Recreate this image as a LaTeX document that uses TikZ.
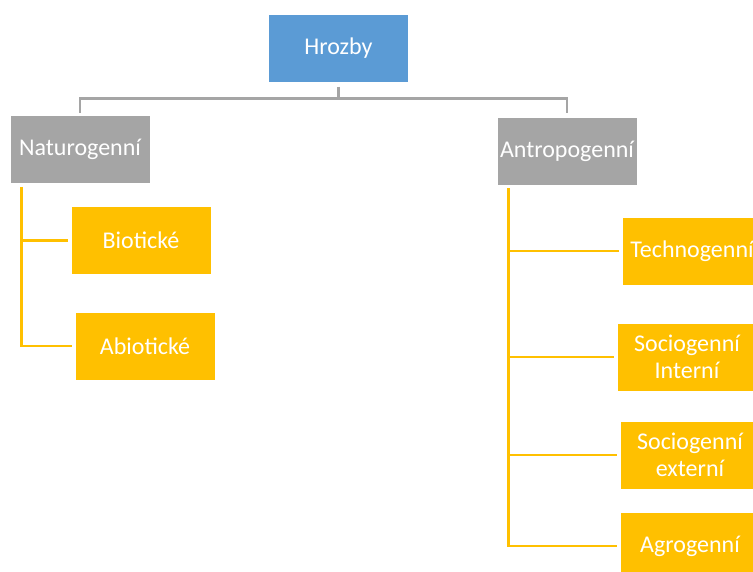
\documentclass[tikz,border=0pt]{standalone}
\usepackage{fontspec}
\setmainfont{Carlito}
\usetikzlibrary{calc}
\definecolor{cblue}{HTML}{5B9BD5}
\definecolor{cgray}{HTML}{A5A5A5}
\definecolor{cgold}{HTML}{FFC000}
\begin{document}
\begin{tikzpicture}[x=0.75pt,y=-0.75pt,
  box/.style={rectangle, draw=white, line width=0.4pt, minimum width=105pt, minimum height=51pt,
    text=white, font=\fontsize{18}{20.5}\selectfont, align=center, inner sep=1pt},
  bluebox/.style={box, fill=cblue},
  graybox/.style={box, fill=cgray},
  goldbox/.style={box, fill=cgold},
  grayline/.style={draw=cgray, line width=2pt},
  goldline/.style={draw=cgold, line width=2.2pt}]
\useasboundingbox (0,0) rectangle (753,571);
\clip (0,0) rectangle (753,571);
\node[bluebox] (hro) at (338.5,48.5) {Hrozby};
\node[graybox] (nat) at (80,149.5) {Naturogenní};
\node[graybox] (ant) at (567,151) {Antropogenní};
\node[goldbox] (bio) at (141,240.5) {Biotické};
\node[goldbox] (abio) at (145,346) {Abiotické};
\node[goldbox] (tech) at (692,251) {Technogenní};
\node[goldbox] (soci) at (687,357) {Sociogenní\\Interní};
\node[goldbox] (soce) at (690,455) {Sociogenní\\externí};
\node[goldbox] (agro) at (690,546) {Agrogenní};
\draw[grayline, shorten <=3pt, shorten >=2pt] (hro.south) -- ++(0,16) -| (nat.north);
\draw[grayline, shorten <=3pt, shorten >=3pt] (hro.south) -- ++(0,16) -| (ant.north);
\draw[goldline, shorten >=2pt] ($(nat.south west)+(12,3)$) |- (bio.west);
\draw[goldline, shorten >=2pt] ($(nat.south west)+(12,3)$) |- (abio.west);
\draw[goldline, shorten >=2pt] ($(ant.south west)+(12,3)$) |- (tech.west);
\draw[goldline, shorten >=2pt] ($(ant.south west)+(12,3)$) |- (soci.west);
\draw[goldline, shorten >=2pt] ($(ant.south west)+(12,3)$) |- (soce.west);
\draw[goldline, shorten >=2pt] ($(ant.south west)+(12,3)$) |- (agro.west);
\end{tikzpicture}
\end{document}
